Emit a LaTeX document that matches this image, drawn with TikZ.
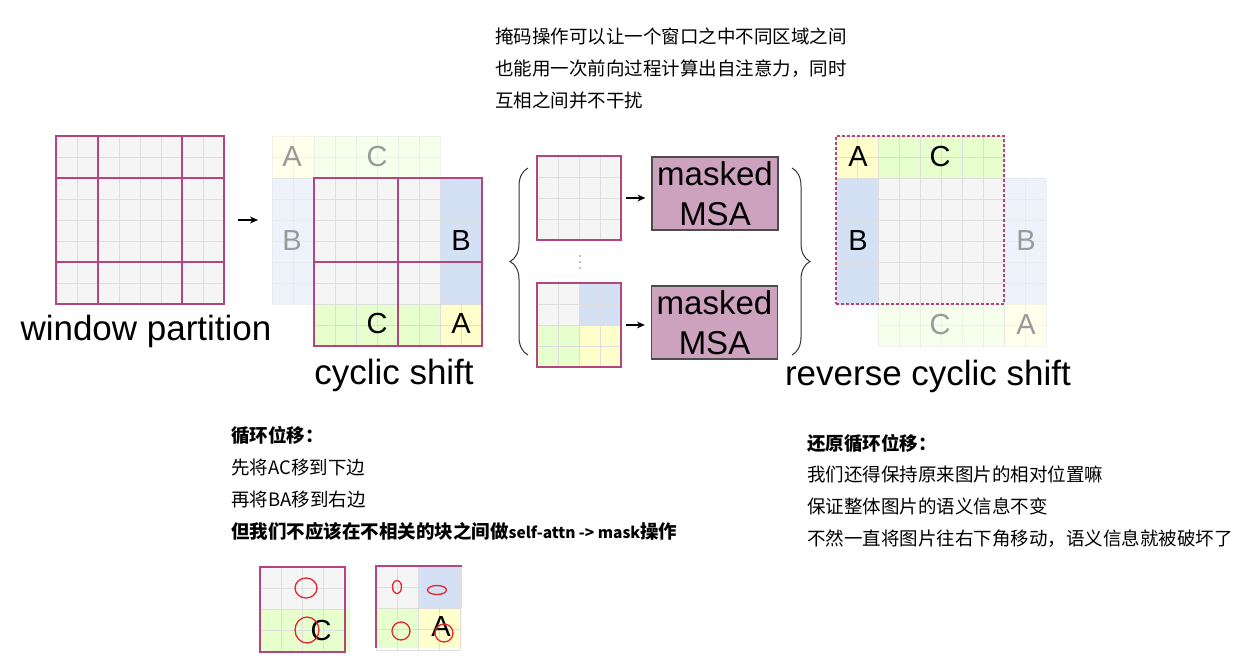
\documentclass[tikz,border=0pt]{standalone}
\usepackage{fontspec}
\setmainfont{Liberation Sans}
\newfontfamily\cjk{Noto Sans CJK SC}
\usetikzlibrary{arrows.meta,decorations.pathreplacing}

\definecolor{cellgray}{HTML}{F5F5F5}
\definecolor{celledge}{HTML}{DEDEDE}
\definecolor{winred}{HTML}{B5457F}
\definecolor{cblue}{HTML}{D4E1F5}
\definecolor{cgreen}{HTML}{E6FFCC}
\definecolor{cyellow}{HTML}{FFFFCC}
\definecolor{msafill}{HTML}{CDA2BE}
\definecolor{msaedge}{HTML}{4D4D4D}
\definecolor{ringred}{HTML}{E8232B}
\definecolor{fadetext}{HTML}{9A9A9A}
\definecolor{dotgray}{HTML}{8A8070}

% light cell lines: x0, y0, columns, rows
\newcommand{\cellgrid}[4]{%
  \foreach \gi in {0,...,#3}{\draw[cellline] (#1+21*\gi,#2) -- (#1+21*\gi,#2+21*#4);}
  \foreach \gj in {0,...,#4}{\draw[cellline] (#1,#2+21*\gj) -- (#1+21*#3,#2+21*\gj);}
}

\tikzset{
  cellline/.style={draw=celledge, line width=0.9pt},
  winline/.style={draw=winred, line width=1.3pt},
  winframe/.style={draw=winred, line width=1.3pt, inner sep=0pt, outer sep=0pt},
  letter/.style={font=\fontsize{29}{29}\selectfont, inner sep=0pt},
  fadeletter/.style={letter, text=fadetext},
  caption/.style={font=\fontsize{35}{35}\selectfont, inner sep=0pt, anchor=base},
  msabox/.style={draw=msaedge, line width=1.3pt, fill=msafill, minimum width=126pt,
    minimum height=73pt, align=center, inner sep=0pt, font=\fontsize{33}{40}\selectfont},
  arr/.style={-{Stealth[length=8pt,width=7pt]}, line width=1.1pt},
  note/.style={font=\cjk\fontsize{18.5}{18.5}\selectfont, inner sep=0pt, anchor=base west},
  ring/.style={draw=ringred, line width=1.3pt},
  bigbrace/.style={decorate, decoration={brace, amplitude=18pt}, draw=black!80, line width=1pt}
}

\begin{document}
\begin{tikzpicture}[x=1pt,y=-1pt]
\useasboundingbox (0,0) rectangle (1260,661);

% window partition
\fill[cellgray] (56,136) rectangle (224,304);
\cellgrid{56}{136}{8}{8}
\node[winframe, minimum size=168pt] (wp) at (140,220) {};
\draw[winline] (98,136) -- (98,304);
\draw[winline] (182,136) -- (182,304);
\draw[winline] (56,178) -- (224,178);
\draw[winline] (56,262) -- (224,262);
\node[caption] (wpcap) at (146,340) {window partition};

% cyclic shift
\begin{scope}[opacity=0.4]
  \fill[cyellow] (272,136) rectangle (314,178);
  \fill[cgreen] (314,136) rectangle (440,178);
  \fill[cblue] (272,178) rectangle (314,304);
  \cellgrid{272}{136}{8}{2}
  \cellgrid{272}{178}{2}{6}
\end{scope}
\node[fadeletter] (csfa) at (292,157) {A};
\node[fadeletter] (csfc) at (377,157) {C};
\node[fadeletter] (csfb) at (292,241) {B};
\fill[cellgray] (314,178) rectangle (482,346);
\fill[cblue] (440,178) rectangle (482,304);
\fill[cgreen] (314,304) rectangle (440,346);
\fill[cyellow] (440,304) rectangle (482,346);
\cellgrid{314}{178}{8}{8}
\node[winframe, minimum size=168pt] (cs) at (398,262) {};
\draw[winline] (cs.north) -- (cs.south);
\draw[winline] (cs.west) -- (cs.east);
\node[letter] (csb) at (461,241) {B};
\node[letter] (csc) at (377,324) {C};
\node[letter] (csa) at (461,324) {A};
\node[caption] (cscap) at (394,384) {cyclic shift};
\coordinate (csin) at (272,220);
\draw[arr, shorten <=14pt, shorten >=14pt] (wp.east) -- (csin);

% windows and masked MSA
\fill[cellgray] (537,156) rectangle (621,240);
\cellgrid{537}{156}{4}{4}
\node[winframe, minimum size=84pt] (mg1) at (579,198) {};
\fill[cellgray] (537,283) rectangle (579,325);
\fill[cblue] (579,283) rectangle (621,325);
\fill[cgreen] (537,325) rectangle (579,367);
\fill[cyellow] (579,325) rectangle (621,367);
\cellgrid{537}{283}{4}{4}
\node[winframe, minimum size=84pt] (mg2) at (579,325) {};
\foreach \dy in {256,262,268}
  \fill[dotgray] (580,\dy) circle (0.9pt);
\node[msabox] (msa1) at (715,193.5) {masked\\MSA};
\node[msabox] (msa2) at (714.5,322.5) {masked\\MSA};
\draw[arr, shorten <=5pt, shorten >=6pt] (mg1.east) -- (mg1.east -| msa1.west);
\draw[arr, shorten <=5pt, shorten >=6pt] (mg2.east) -- (mg2.east -| msa2.west);
\draw[bigbrace] (528,355) -- (528,168);
\draw[bigbrace] (792,168) -- (792,355);

% reverse cyclic shift
\fill[cellgray] (836,136) rectangle (1004,304);
\fill[cyellow] (836,136) rectangle (878,178);
\fill[cgreen] (878,136) rectangle (1004,178);
\fill[cblue] (836,178) rectangle (878,304);
\cellgrid{836}{136}{8}{8}
\begin{scope}[opacity=0.4]
  \fill[cblue] (1004,178) rectangle (1046,304);
  \fill[cgreen] (878,304) rectangle (1004,346);
  \fill[cyellow] (1004,304) rectangle (1046,346);
  \cellgrid{1004}{178}{2}{8}
  \cellgrid{878}{304}{6}{2}
\end{scope}
\node[winframe, dash pattern=on 3pt off 2pt, minimum size=168pt] (rcs) at (920,220) {};
\node[letter] (rca) at (858,157) {A};
\node[letter] (rcc) at (940,157) {C};
\node[letter] (rcb) at (858,241) {B};
\node[fadeletter] (rcfb) at (1026,241) {B};
\node[fadeletter] (rcfc) at (940,325) {C};
\node[fadeletter] (rcfa) at (1026,325) {A};
\node[caption] (rccap) at (928,385) {reverse cyclic shift};

% notes
\node[note] (top1) at (495,44) {掩码操作可以让一个窗口之中不同区域之间};
\node[note] (top2) at (495,75) {也能用一次前向过程计算出自注意力，同时};
\node[note] (top3) at (495,107) {互相之间并不干扰};
\node[note] (left1) at (231,442) {\bfseries 循环位移：};
\node[note] (left2) at (231,474) {先将AC移到下边};
\node[note] (left3) at (231,506) {再将BA移到右边};
\node[note] (left4) at (231,538) {\bfseries 但我们不应该在不相关的块之间做{\fontsize{15.5}{15.5}\selectfont self-attn -> mask}操作};
\node[note] (right1) at (807,450) {\bfseries 还原循环位移：};
\node[note] (right2) at (807,481) {我们还得保持原来图片的相对位置嘛};
\node[note] (right3) at (807,513) {保证整体图片的语义信息不变};
\node[note] (right4) at (807,545) {不然一直将图片往右下角移动，语义信息就被破坏了};

% crops with rings
\fill[cellgray] (260,567) rectangle (350,609);
\fill[cgreen] (260,609) rectangle (350,652);
\cellgrid{260}{567}{4}{4}
\draw[winline] (260,567) rectangle (345,652);
\node[letter] (cropc) at (321,631) {C};
\draw[ring] (306,588) ellipse [x radius=11pt, y radius=10pt];
\draw[ring] (307,630) ellipse [x radius=12pt, y radius=13pt];

\fill[cellgray] (376,566) rectangle (418,608);
\fill[cblue] (418,566) rectangle (462,608);
\fill[cgreen] (376,608) rectangle (418,648);
\fill[cyellow] (418,608) rectangle (462,648);
\cellgrid{376}{566}{4}{4}
\draw[winline] (376,648) -- (376,566) -- (462,566);
\node[letter] (cropa) at (441,627) {A};
\draw[ring] (397,587) ellipse [x radius=4.5pt, y radius=6.5pt];
\draw[ring] (437,590) ellipse [x radius=9.5pt, y radius=4.5pt];
\draw[ring] (401,631) ellipse [x radius=9pt, y radius=9pt];
\draw[ring] (444,633) ellipse [x radius=9pt, y radius=9pt];
\end{tikzpicture}
\end{document}
